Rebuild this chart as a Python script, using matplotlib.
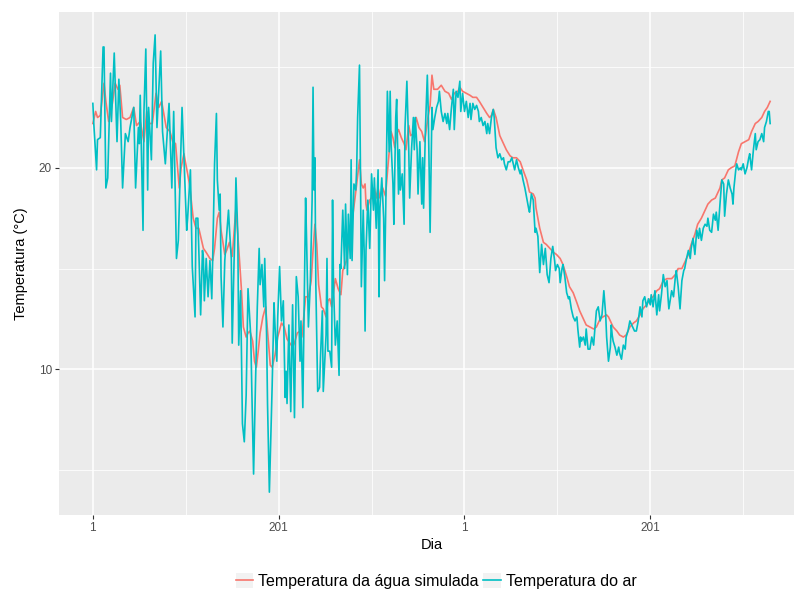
import matplotlib
matplotlib.use("Agg")
import matplotlib.pyplot as plt
from matplotlib.lines import Line2D
from matplotlib.patches import Patch

plt.rcParams['font.family'] = ['Liberation Sans', 'DejaVu Sans']

# air temperature (day index, degC)
air_day = [
    1, 2, 5, 6, 9, 12, 13, 15, 17, 20, 21, 24, 27, 29, 31, 33, 36, 39, 41, 45,
    47, 50, 51, 52, 55, 56, 58, 60, 61, 64, 66, 68, 70, 74, 76, 79, 83, 86, 88, 91,
    93, 97, 102, 103, 106, 108, 111, 112, 114, 115, 117, 119, 120, 121, 123, 125, 127, 129, 130, 132,
    134, 135, 137, 138, 139, 141, 143, 147, 148, 150, 151, 153, 154, 155, 157, 158, 160, 162, 164, 166,
    168, 171, 172, 174, 176, 178, 180, 181, 183, 185, 186, 188, 189, 191, 194, 196, 197, 199, 200, 202,
    204, 206, 208, 209, 210, 212, 214, 216, 218, 220, 222, 224, 225, 227, 230, 231, 233, 235, 237, 238,
    239, 240, 241, 243, 245, 246, 248, 249, 252, 253, 254, 256, 258, 259, 260, 262, 264, 266, 267, 268,
    270, 272, 273, 275, 276, 278, 279, 280, 282, 284, 285, 286, 288, 289, 290, 292, 293, 294, 295, 297,
    299, 301, 303, 304, 306, 308, 309, 310, 312, 314, 315, 317, 318, 320, 321, 322, 324, 325, 327, 328,
    330, 331, 332, 334, 336, 337, 339, 341, 342, 344, 346, 347, 348, 350, 351, 353, 355, 356, 357, 359,
    361, 362, 364, 366, 367, 369, 371, 373, 374, 376, 378, 380, 382, 383, 385, 387, 389, 390, 392, 394,
    396, 397, 399, 401, 403, 405, 407, 408, 410, 412, 414, 416, 417, 419, 421, 423, 425, 426, 428, 430,
    432, 433, 435, 437, 439, 441, 443, 444, 446, 448, 450, 452, 453, 455, 457, 459, 461, 462, 464, 466,
    468, 470, 471, 473, 475, 477, 478, 480, 482, 484, 486, 488, 490, 492, 494, 496, 498, 499, 501, 503,
    504, 506, 507, 509, 511, 513, 514, 516, 518, 520, 522, 523, 525, 526, 527, 529, 531, 532, 534, 536,
    538, 540, 541, 543, 545, 547, 549, 551, 553, 554, 556, 558, 559, 560, 561, 563, 565, 567, 568, 570,
    572, 574, 575, 577, 579, 581, 583, 584, 586, 588, 590, 592, 593, 595, 597, 599, 601, 602, 604, 606,
    608, 610, 611, 613, 615, 617, 619, 620, 621, 623, 624, 626, 628, 629, 631, 633, 635, 637, 638, 640,
    642, 644, 645, 647, 649, 651, 653, 654, 656, 658, 660, 662, 663, 665, 667, 669, 671, 672, 674, 676,
    678, 680, 681, 683, 685, 687, 689, 690, 691, 693, 694, 696, 698, 699, 701, 703, 705, 707, 708, 710,
    712, 714, 715, 717, 719, 721, 723, 724, 726, 728, 729, 730,
]
air_temp = [
    23.2, 22.2, 19.9, 21.4, 21.5, 26.0, 26.0, 19.0, 19.5, 24.7, 22.3, 25.7, 21.3, 24.4, 22.3, 19.0, 21.7, 21.3, 22.0, 23.0,
    19.0, 22.0, 21.2, 23.6, 16.9, 22.8, 25.9, 18.9, 23.0, 20.4, 25.2, 26.6, 22.0, 25.8, 21.8, 20.2, 23.2, 19.0, 22.8, 15.5,
    16.4, 23.0, 16.9, 17.5, 19.9, 15.1, 12.6, 17.5, 17.5, 16.0, 12.7, 15.9, 15.5, 13.4, 15.5, 13.6, 15.4, 13.5, 15.5, 20.2,
    22.7, 19.4, 17.9, 18.7, 14.6, 12.1, 15.4, 17.9, 17.0, 15.5, 11.3, 15.4, 16.9, 19.5, 16.7, 11.2, 13.9, 7.3, 6.4, 8.7,
    14.0, 11.6, 9.2, 4.8, 9.2, 13.1, 16.0, 14.2, 15.2, 13.1, 15.5, 11.7, 8.3, 3.9, 9.2, 13.3, 12.2, 10.4, 12.6, 15.1,
    12.4, 13.4, 8.6, 9.9, 8.3, 12.2, 7.9, 13.2, 7.6, 14.6, 13.6, 10.4, 12.4, 8.1, 18.5, 16.5, 12.1, 14.2, 18.4, 24.0,
    18.9, 20.5, 14.2, 8.9, 9.1, 10.6, 12.9, 8.9, 11.7, 15.5, 10.9, 10.9, 10.1, 18.4, 14.2, 11.2, 12.4, 9.7, 15.2, 15.0,
    17.9, 15.0, 18.2, 14.7, 17.7, 15.5, 20.4, 15.4, 19.2, 18.9, 20.0, 22.5, 25.1, 20.0, 14.1, 17.9, 15.9, 11.9, 15.9, 18.4,
    16.0, 19.7, 17.9, 19.5, 17.0, 19.9, 13.6, 18.0, 19.5, 17.5, 14.4, 20.2, 23.8, 20.8, 23.8, 21.2, 19.2, 17.2, 22.5, 23.4,
    18.7, 20.9, 18.9, 19.7, 17.2, 22.0, 24.3, 20.9, 18.5, 20.9, 22.5, 20.9, 22.5, 20.9, 18.7, 21.3, 18.2, 20.5, 18.0, 22.0,
    24.6, 22.8, 16.8, 23.0, 21.9, 22.5, 23.0, 23.3, 23.8, 22.8, 22.3, 22.7, 22.2, 22.7, 21.9, 23.0, 23.9, 21.9, 23.8, 23.5,
    24.3, 22.8, 23.7, 22.8, 23.3, 22.5, 23.2, 22.4, 23.2, 22.9, 23.1, 22.8, 22.3, 22.5, 22.1, 22.3, 21.7, 22.2, 21.7, 22.5,
    22.9, 22.5, 21.0, 20.5, 20.7, 20.4, 20.5, 20.2, 19.9, 20.3, 20.3, 20.5, 20.3, 19.9, 20.4, 20.0, 19.7, 19.9, 19.4, 19.0,
    18.5, 18.0, 17.8, 18.7, 18.4, 16.8, 17.0, 16.6, 14.8, 16.2, 15.2, 16.0, 14.7, 14.3, 15.5, 16.1, 15.4, 14.9, 15.2, 15.0,
    14.3, 15.0, 15.2, 14.6, 13.8, 13.5, 13.6, 13.0, 12.6, 12.4, 12.6, 12.0, 11.1, 11.6, 11.4, 11.6, 11.2, 12.0, 11.0, 11.0,
    11.6, 11.2, 11.8, 12.9, 13.1, 12.4, 12.7, 13.9, 12.7, 11.6, 10.4, 11.1, 12.2, 11.7, 11.4, 11.1, 10.7, 11.1, 10.8, 10.5,
    11.2, 11.0, 11.6, 11.9, 12.4, 12.2, 12.0, 11.9, 11.9, 12.4, 13.1, 12.6, 13.4, 13.6, 13.1, 13.5, 13.2, 13.7, 13.1, 13.9,
    12.7, 13.7, 12.9, 13.7, 14.7, 14.1, 14.4, 13.6, 13.0, 13.6, 13.9, 13.6, 14.6, 14.9, 14.1, 13.0, 14.4, 14.9, 15.0, 15.5,
    15.9, 15.5, 16.0, 16.5, 15.7, 16.9, 16.5, 17.0, 16.4, 17.0, 17.2, 17.1, 17.5, 16.9, 16.8, 17.7, 17.4, 17.8, 16.9, 18.2,
    19.4, 19.2, 17.6, 18.7, 19.4, 19.0, 18.7, 18.2, 19.0, 19.9, 20.2, 19.9, 20.0, 19.9, 20.2, 19.7, 20.0, 20.5, 20.7, 19.9,
    20.9, 21.7, 20.9, 21.3, 21.4, 21.7, 21.3, 22.0, 22.3, 22.8, 22.8, 22.2,
]

# simulated water temperature (day index, degC)
water_day = [
    1, 4, 6, 9, 13, 15, 18, 22, 25, 28, 30, 33, 37, 41, 45, 48, 52, 56, 59, 62,
    65, 69, 72, 75, 80, 84, 87, 90, 94, 96, 99, 105, 109, 112, 115, 120, 123, 127, 130, 132,
    135, 137, 139, 143, 145, 148, 151, 153, 155, 158, 161, 163, 166, 168, 170, 173, 175, 177, 179, 181,
    184, 187, 189, 192, 194, 197, 200, 204, 207, 210, 213, 216, 218, 221, 224, 226, 230, 233, 236, 238,
    240, 242, 244, 247, 249, 252, 254, 256, 258, 262, 265, 268, 270, 274, 277, 281, 285, 288, 290, 292,
    294, 295, 296, 299, 301, 304, 306, 308, 310, 313, 316, 319, 322, 324, 326, 328, 330, 333, 336, 338,
    341, 343, 346, 349, 352, 355, 358, 362, 364, 366, 368, 372, 376, 380, 384, 387, 390, 394, 396, 399,
    403, 407, 410, 414, 417, 421, 425, 428, 430, 432, 435, 439, 442, 446, 450, 453, 457, 461, 464, 468,
    471, 475, 477, 478, 482, 486, 489, 493, 497, 500, 504, 507, 511, 514, 518, 522, 525, 529, 532, 536,
    540, 543, 547, 550, 554, 556, 558, 561, 565, 568, 572, 575, 579, 583, 586, 590, 593, 597, 601, 604,
    608, 611, 615, 619, 621, 624, 628, 631, 635, 638, 642, 645, 649, 652, 656, 660, 663, 667, 671, 674,
    676, 678, 681, 685, 688, 692, 696, 699, 703, 707, 710, 714, 717, 721, 724, 727, 730,
]
water_temp = [
    22.2, 22.8, 22.5, 22.6, 24.2, 23.3, 22.3, 23.2, 24.2, 23.9, 24.1, 22.5, 22.4, 22.5, 23.0, 22.1, 22.3, 21.3, 22.8, 22.2,
    22.2, 23.7, 23.0, 23.3, 22.0, 21.8, 21.3, 21.2, 19.0, 20.0, 20.7, 19.2, 17.5, 17.0, 17.0, 16.0, 15.8, 15.5, 15.4, 16.0,
    17.5, 17.8, 16.9, 15.7, 15.9, 16.3, 15.6, 16.8, 18.0, 16.0, 13.9, 12.1, 11.6, 11.8, 11.9, 11.4, 10.4, 10.1, 10.9, 11.8,
    12.6, 13.1, 11.9, 10.2, 10.1, 10.7, 11.6, 12.3, 12.1, 11.5, 11.3, 11.1, 11.3, 11.8, 11.9, 11.6, 13.6, 13.6, 14.4, 15.9,
    17.2, 16.2, 14.2, 13.1, 13.0, 12.6, 13.4, 13.5, 13.1, 14.5, 14.0, 13.7, 14.9, 15.4, 16.5, 17.7, 19.2, 20.4, 19.2, 19.0,
    19.2, 18.2, 17.9, 18.4, 18.5, 19.0, 18.5, 19.0, 18.5, 19.0, 18.6, 20.3, 21.8, 21.5, 21.0, 21.7, 21.9, 21.5, 21.2, 20.9,
    22.1, 21.6, 21.7, 22.5, 22.0, 21.8, 21.3, 22.6, 23.1, 24.6, 23.9, 23.9, 24.1, 23.8, 23.7, 23.4, 23.7, 23.8, 24.0, 23.8,
    23.7, 23.6, 23.5, 23.5, 23.3, 23.0, 22.7, 22.5, 22.6, 22.9, 22.5, 21.6, 21.3, 20.9, 20.6, 20.5, 20.5, 20.3, 19.9, 19.4,
    18.8, 18.7, 18.5, 18.0, 17.0, 16.3, 16.2, 16.0, 15.8, 15.7, 15.5, 15.2, 14.6, 14.1, 13.8, 13.3, 12.9, 12.5, 12.2, 12.1,
    12.0, 12.1, 12.5, 12.6, 12.7, 12.6, 12.4, 12.1, 11.9, 11.7, 11.6, 11.7, 12.1, 12.3, 12.4, 12.7, 13.0, 13.2, 13.5, 13.6,
    13.9, 14.0, 14.4, 14.5, 14.5, 14.5, 14.7, 15.0, 15.0, 15.3, 15.7, 16.2, 16.7, 17.2, 17.5, 17.9, 18.2, 18.4, 18.5, 18.8,
    19.0, 19.4, 19.5, 19.9, 20.0, 20.1, 20.8, 21.2, 21.3, 21.4, 21.8, 22.2, 22.3, 22.5, 22.8, 23.0, 23.3,
]

x_ticks = [1, 201, 401, 601]
x_tick_labels = ["1", "201", "1", "201"]
x_minor = [101, 301, 501, 701]
y_ticks = [10, 20]
y_minor = [5, 15, 25]

red = "#F8766D"
cyan = "#00BFC4"

fig = plt.figure(figsize=(7.94, 5.9), dpi=100)
ax = fig.add_axes([0.0743, 0.1271, 0.9383, 0.8525])
ax.set_facecolor("#EBEBEB")
for s in ax.spines.values():
    s.set_visible(False)

ax.plot(water_day, water_temp, color=red, lw=1.2)
ax.plot(air_day, air_temp, color=cyan, lw=1.2)

# ggplot style 5% expansion
lo, hi = min(air_day + water_day), max(air_day + water_day)
pad = 0.05 * (hi - lo)
ax.set_xlim(lo - pad, hi + pad)
ylo, yhi = min(air_temp + water_temp), max(air_temp + water_temp)
ypad = 0.05 * (yhi - ylo)
ax.set_ylim(ylo - ypad, yhi + ypad)

ax.set_xticks(x_ticks)
ax.set_xticklabels(x_tick_labels)
ax.set_xticks(x_minor, minor=True)
ax.set_yticks(y_ticks)
ax.set_yticks(y_minor, minor=True)
ax.grid(which="major", color="white", lw=1.1)
ax.grid(which="minor", color="white", lw=0.55)
ax.set_axisbelow(True)
ax.tick_params(which="major", length=3, width=0.8, color="#333333",
               labelsize=8.5, labelcolor="#4D4D4D", pad=2)
ax.tick_params(which="minor", length=0)

ax.set_xlabel("Dia", fontsize=10.5, labelpad=3)
ax.set_ylabel("Temperatura (°C)", fontsize=10.5, labelpad=8)

key_bg = "#F2F2F2"
handles = [
    (Patch(facecolor=key_bg, edgecolor="none"), Line2D([], [], color=red, lw=1.2)),
    (Patch(facecolor=key_bg, edgecolor="none"), Line2D([], [], color=cyan, lw=1.2)),
]
labels = ["Temperatura da água simulada", "Temperatura do ar"]
fig.legend(handles, labels, loc="center", bbox_to_anchor=(436 / 794, 9 / 590),
           ncol=2, frameon=False, fontsize=11.5, handlelength=1.1, handleheight=1.1,
           handletextpad=0.3, columnspacing=0.3, borderpad=0, borderaxespad=0)

fig.savefig("out.png", dpi=100)
